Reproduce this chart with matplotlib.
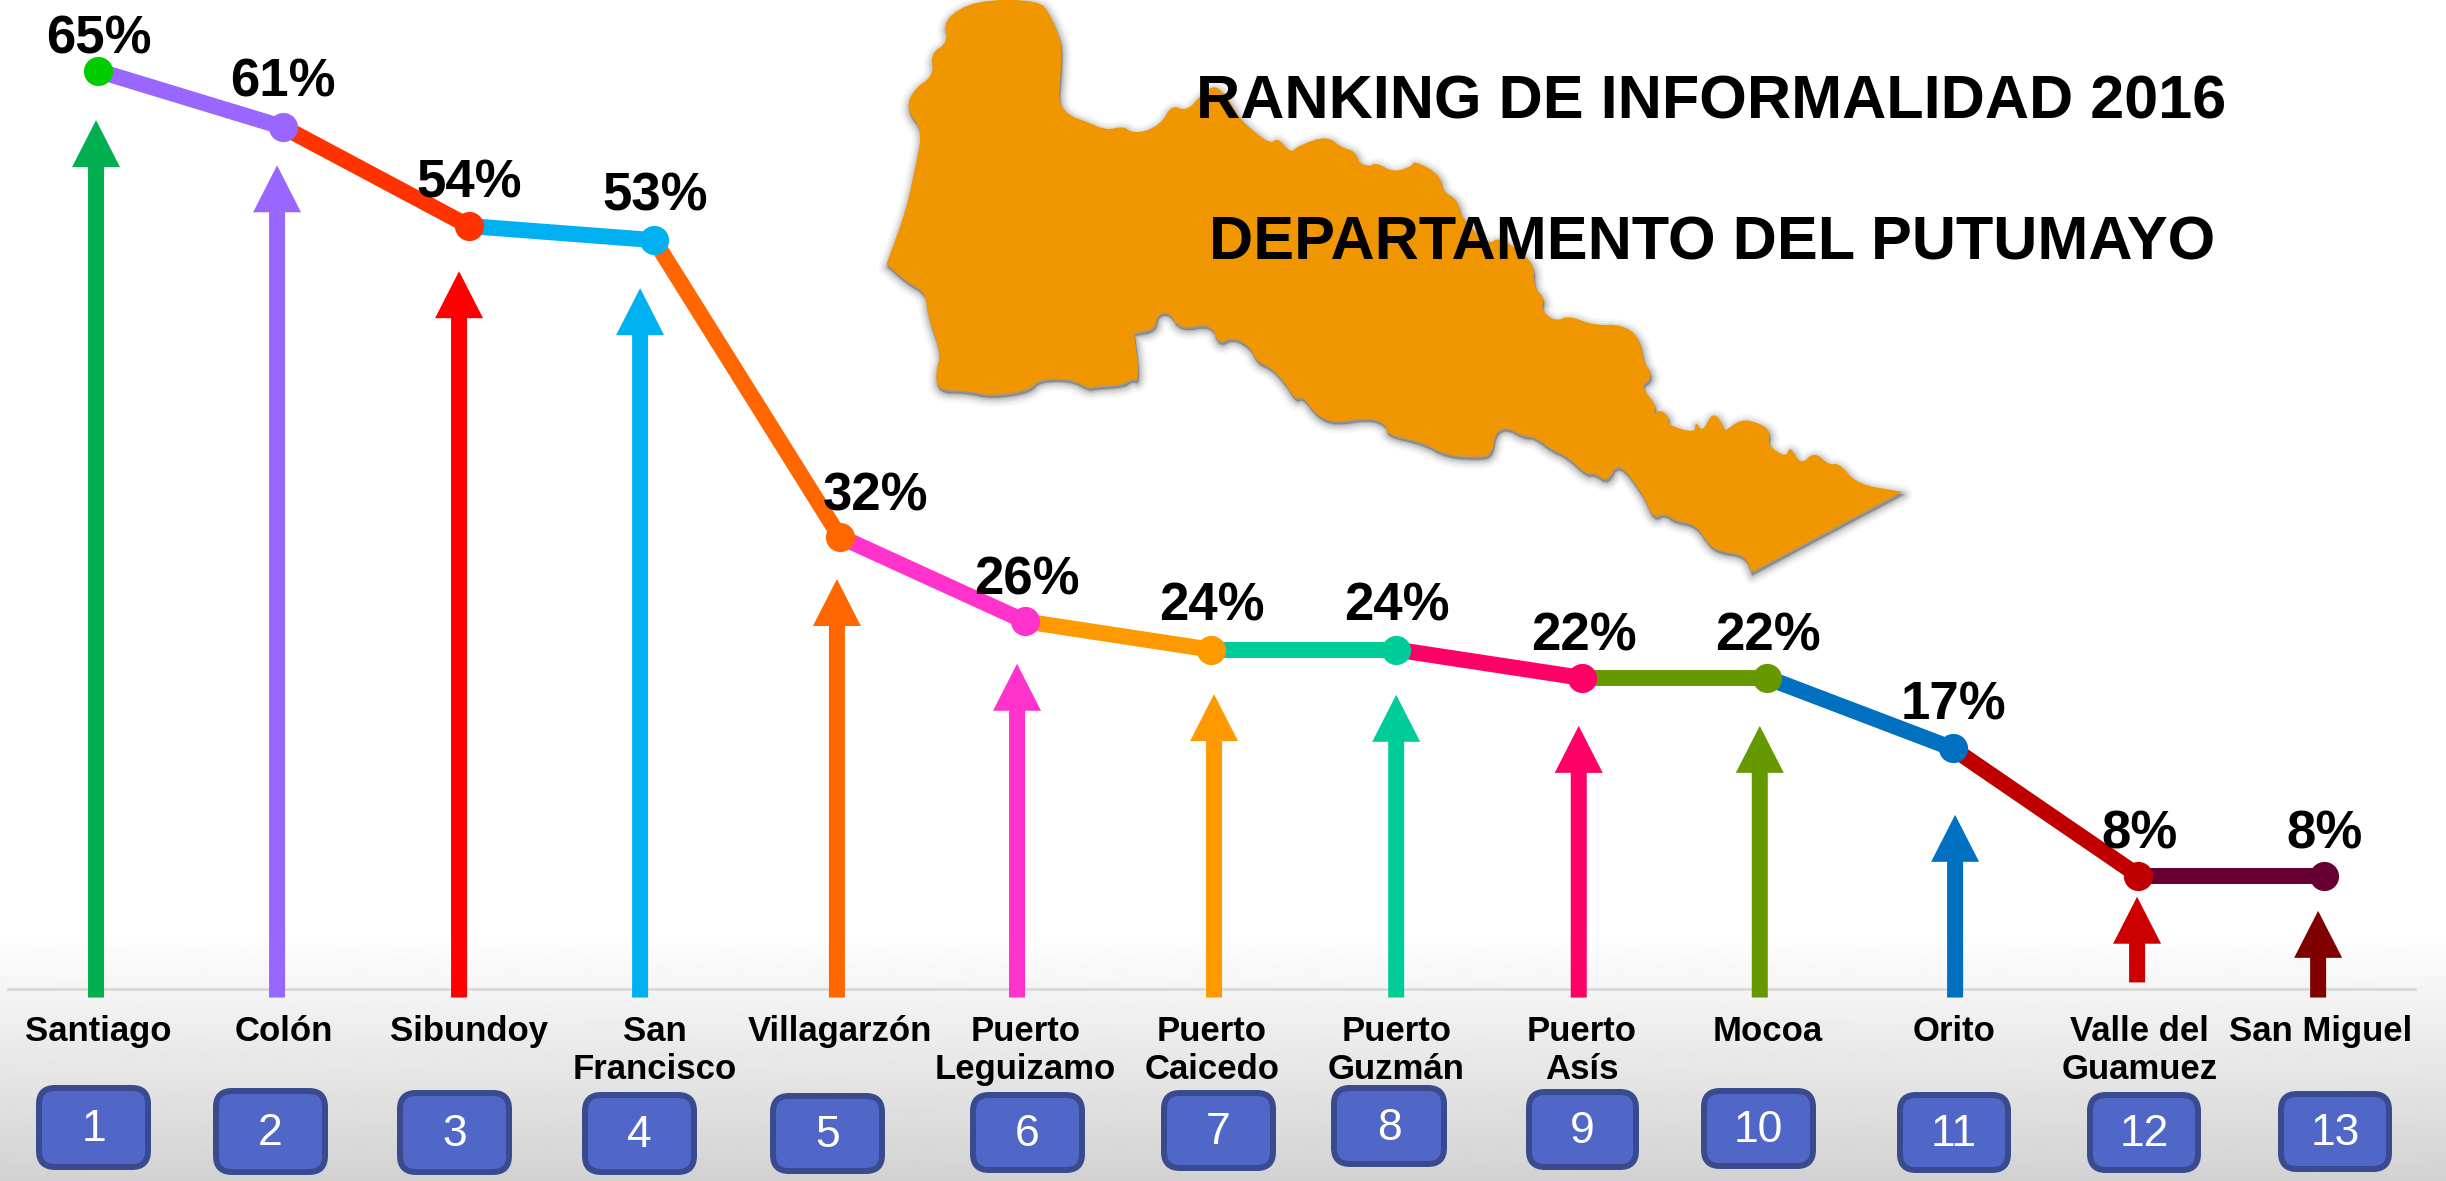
import numpy as np
import matplotlib
matplotlib.use("Agg")
import matplotlib.pyplot as plt
from matplotlib.patches import FancyArrow, FancyBboxPatch, Polygon
from matplotlib.transforms import ScaledTranslation

plt.rcParams['font.family'] = ['Liberation Sans', 'DejaVu Sans']

# ---- data ----
municipios = ["Santiago", "Colón", "Sibundoy", "San\nFrancisco", "Villagarzón", "Puerto\nLeguizamo",
              "Puerto\nCaicedo", "Puerto\nGuzmán", "Puerto\nAsís", "Mocoa", "Orito",
              "Valle del\nGuamuez", "San Miguel"]
ranking = [1, 2, 3, 4, 5, 6, 7, 8, 9, 10, 11, 12, 13]
informalidad = [65, 61, 54, 53, 32, 26, 24, 24, 22, 22, 17, 8, 8]
punta_flecha = [61.5, 58.3, 50.8, 49.6, 29.0, 23.0, 20.85, 20.8, 18.6, 18.6, 12.3, 6.5, 5.5]
base_flecha = [-0.64, -0.64, -0.64, -0.64, -0.64, -0.64, -0.64, -0.64, -0.64, -0.64, -0.64, 0.43, -0.64]
pos_flecha = [0.991, 1.967, 2.948, 3.924, 4.985, 5.956, 7.018, 8.0, 8.984, 9.96, 11.013, 11.994, 12.97]

color_punto = ["#00CC00", "#9966FF", "#FF3300", "#00B0F0", "#FF6600", "#FF33CC", "#FF9900",
               "#00CC99", "#FF0066", "#669900", "#0070C0", "#C00000", "#660033"]
color_flecha = ["#00B050", "#9966FF", "#FF0000", "#00B0F0", "#FF6600", "#FF33CC", "#FF9900",
                "#00CC99", "#FF0066", "#669900", "#0070C0", "#CC0000", "#800000"]

# label offsets (pixels)
etiqueta_dx = [1, 0, 0, 1, 36, 2, 1, 1, 2, 1, 1, 1, 1]
etiqueta_dy = [31, 45, 43, 44, 40, 41, 43, 43, 41, 41, 43, 41, 41]
municipio_dx = [1, 1, 0, 1, 0, 0, 1, 0, 0, 0, 1, 1, -3]

# numbered boxes: left, right, top, bottom in pixels
cajas = [(36, 151, 1085, 1170), (213, 328, 1088, 1175), (397, 512, 1090, 1175), (582, 697, 1092, 1175),
         (770, 885, 1093, 1174), (970, 1085, 1092, 1173), (1161, 1276, 1090, 1171), (1331, 1447, 1085, 1167),
         (1526, 1639, 1089, 1170), (1701, 1816, 1088, 1169), (1897, 2011, 1092, 1173),
         (2087, 2201, 1092, 1173), (2278, 2392, 1091, 1172)]

# department outline (sharp tips are listed three times)
mapa = [(180,0),(270,0),(285,40),(295,80),(302,120),(300,200),(297,265),(310,300),(340,320),(365,340),(390,330),
        (400,345),(420,345),(445,320),(458,275),(480,290),(500,250),(520,220),(540,260),(555,310),(580,350),
        (600,375),(610,360),(628,400),(640,380),(680,355),(700,385),(720,395),(725,425),(740,435),(750,425),
        (775,450),(800,435),(805,420),(840,455),(845,500),(865,520),(872,570),(910,640),(925,620),(950,650),
        (975,690),(975,750),(990,780),(985,810),(1005,840),(1025,825),(1060,850),(1100,848),(1125,880),
        (1132,950),(1140,965),(1142,990),(1127,1010),(1150,1060),(1145,1085),(1155,1070),(1168,1090),(1165,1110),
        (1205,1132),(1205,1100),(1215,1130),(1230,1075),(1245,1110),(1245,1130),(1270,1095),(1295,1105),
        (1312,1125),(1308,1165),(1335,1195),(1340,1165),(1355,1215),(1375,1180),(1395,1215),(1410,1210),
        (1435,1265),(1500,1285),(1500,1285),(1500,1285),(1285,1495),(1285,1495),(1285,1495),(1275,1450),(1240,1440),(1225,1425),(1205,1370),(1175,1360),
        (1160,1340),(1145,1355),(1130,1290),(1095,1205),(1080,1260),(1060,1235),(1050,1240),(1020,1190),
        (1000,1175),(975,1140),(960,1140),(935,1115),(920,1130),(915,1185),(900,1195),(850,1190),(815,1155),
        (765,1135),(765,1110),(740,1090),(690,1105),(665,1085),(645,1035),(635,1045),(620,1000),(600,960),
        (580,945),(570,905),(545,880),(525,900),(515,845),(470,860),(455,815),(438,820),(435,860),(405,870),(405,870),
        (413,995),(400,990),(390,1005),(350,1010),(340,1015),(315,990),(270,990),(255,1020),(200,1035),
        (165,1020),(125,1020),(122,970),(130,925),(110,820),(108,765),(80,735),(52,690),(52,690),(52,690),(80,550),(95,420),
        (103,340),(80,285),(90,235),(120,195),(115,140),(140,110),(133,50)]

W, H = 2446, 1181
fig = plt.figure(figsize=(W / 100, H / 100), dpi=100, facecolor="white")

# ---- background layer, in pixels ----
bg = fig.add_axes([0, 0, 1, 1], zorder=0)
bg.set_xlim(0, W)
bg.set_ylim(H, 0)
bg.axis("off")
ramp = np.ones((H, 1))
inicio = 930
ramp[inicio:, 0] = np.linspace(1.0, 0.825, H - inicio)
bg.imshow(ramp, cmap="gray", vmin=0, vmax=1, extent=(0, W, H, 0), aspect="auto", interpolation="bilinear")

mapa_px = np.array(mapa, dtype=float)
mapa_px[:, 0] = 850 + mapa_px[:, 0] / 1.4255
mapa_px[:, 1] = mapa_px[:, 1] / 2.613
for _ in range(2):  # round the traced corners
    siguiente = np.roll(mapa_px, -1, axis=0)
    mapa_px = np.column_stack([0.75 * mapa_px + 0.25 * siguiente, 0.25 * mapa_px + 0.75 * siguiente]).reshape(-1, 2)
for lw, a in [(18, 0.05), (13, 0.07), (9, 0.10), (5, 0.14), (2, 0.2)]:
    bg.add_patch(Polygon(mapa_px + [1, 3], closed=True, fc="#555555", ec="#555555", lw=lw * 0.72,
                         alpha=a, joinstyle="round"))
bg.add_patch(Polygon(mapa_px, closed=True, fc="#F09600", ec="none"))

for n, (l, r, t, b) in zip(ranking, cajas):
    bg.add_patch(FancyBboxPatch((l + 14, t + 14), r - l - 28, b - t - 28,
                                boxstyle="round,pad=11,rounding_size=16", fc="#5067C8", ec="#3A4A8F", lw=4.3))
    bg.text((l + r) / 2, (t + b) / 2 + 2, str(n), color="white", fontsize=32, ha="center", va="center")

bg.text(1711, 103, "RANKING DE INFORMALIDAD 2016", fontsize=44, fontweight="bold", color="black",
        ha="center", va="center", zorder=5)
bg.text(1712, 244, "DEPARTAMENTO DEL PUTUMAYO", fontsize=44, fontweight="bold", color="black",
        ha="center", va="center", zorder=5)

# ---- chart layer ----
ax = fig.add_axes([0, 0, 1, 1], zorder=1)
ax.patch.set_alpha(0)
paso_x = 185.5
x0_px = 97.7
ax.set_xlim(1 - x0_px / paso_x, 1 + (W - x0_px) / paso_x)
px_y = 14.12
cero_px = 988.5
ax.set_ylim(-(H - cero_px) / px_y, cero_px / px_y)

for sp in ("top", "left", "right"):
    ax.spines[sp].set_visible(False)
ax.spines["bottom"].set_position(("data", 0))
ax.spines["bottom"].set_color("#D9D9D9")
ax.spines["bottom"].set_linewidth(2)
ax.spines["bottom"].set_bounds(1 - 90 / paso_x, 1 + (2415 - x0_px) / paso_x)
ax.set_yticks([])
ax.set_xticks(ranking, municipios, fontsize=25, fontweight="bold", color="black", linespacing=1.2)
ax.tick_params(axis="x", length=0, pad=19)
for lab, dx in zip(ax.get_xticklabels(), municipio_dx):
    lab.set_transform(lab.get_transform() + ScaledTranslation(dx / 100, 0, fig.dpi_scale_trans))

for x, top, base, c in zip(pos_flecha, punta_flecha, base_flecha, color_flecha):
    ax.add_patch(FancyArrow(x, base, 0, top - base, width=16 / paso_x, head_width=48 / paso_x,
                            head_length=47 / px_y, length_includes_head=True, fc=c, ec="none", zorder=3))

for i in range(1, len(ranking)):
    ax.plot(ranking[i - 1:i + 1], informalidad[i - 1:i + 1], color=color_punto[i], lw=11.5,
            solid_capstyle="butt", zorder=4)
for x, y, c in zip(ranking, informalidad, color_punto):
    ax.plot([x], [y], "o", ms=21, mfc=c, mec="none", zorder=5)

for x, y, dx, dy in zip(ranking, informalidad, etiqueta_dx, etiqueta_dy):
    ax.annotate(f"{y}%", (x, y), xytext=(dx, dy), textcoords="offset pixels", fontsize=38, fontweight="bold",
                color="black", ha="center", va="center", zorder=6)

fig.savefig("out.png", dpi=100)
